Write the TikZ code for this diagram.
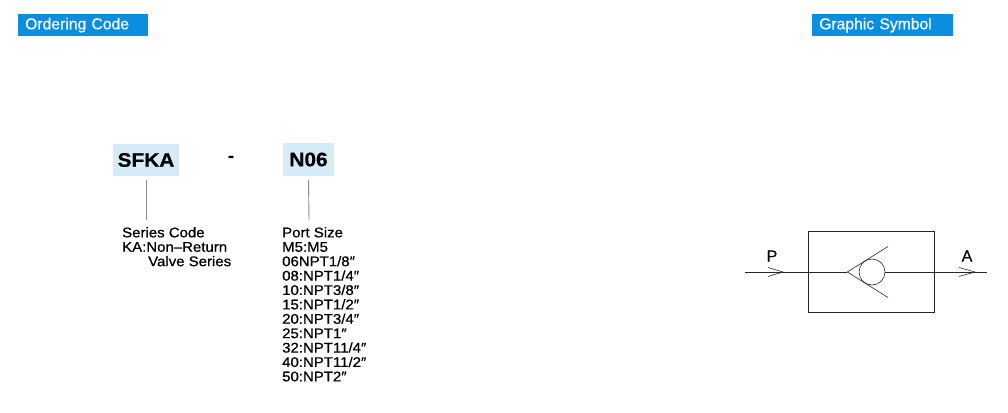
\documentclass[tikz,border=0pt]{standalone}
\usepackage{fontspec}
\setmainfont{Liberation Sans}
\newfontfamily\widefont[FakeStretch=1.07,FakeBold=0.7]{Liberation Sans}
\newfontfamily\hdrfont[FakeBold=0.4]{Liberation Sans}
\usepackage{tikz}
\usetikzlibrary{positioning}
\definecolor{hdrblue}{HTML}{0A8EE0}
\definecolor{codeblue}{HTML}{D5EBF8}
\tikzset{
  hdr/.style={fill=hdrblue, text=white, anchor=north west, inner sep=0pt, inner xsep=7pt, minimum height=22pt, align=left, font=\hdrfont\fontsize{15.7}{18}\selectfont},
  codebox/.style={fill=codeblue, inner sep=0pt, minimum height=32pt, font=\widefont\bfseries\fontsize{19.5}{22}\selectfont},
  lead/.style={draw=black!45, line width=0.9pt},
  desc/.style={anchor=north west, inner sep=0pt, align=left, font=\widefont\fontsize{14}{14.4}\selectfont},
  sym/.style={draw=black!85, line width=0.6pt},
  port/.style={font=\hdrfont\fontsize{16}{18}\selectfont, inner sep=0pt}
}

\begin{document}
\begin{tikzpicture}[x=1pt,y=-1pt]
            \useasboundingbox (0,0) rectangle (1008,412);
            \node[hdr, text width=116pt] (ordhdr) at (18,14) {Ordering Code};
            \node[hdr, text width=127pt] (symhdr) at (812,14) {Graphic Symbol};
            \node[codebox, minimum width=66pt] (sfka) at (146,160) {SFKA};
            \node[codebox, minimum width=51pt, minimum height=33pt] (nport) at (308.5,159.5) {N06};
            \node[font=\bfseries\fontsize{19.5}{22}\selectfont, inner sep=0pt] (dash) at (231,159) {-};
            \coordinate (sfkaend) at (146,220);
            \coordinate (nportend) at (309,220);
            \draw[lead] ([yshift=-4pt]sfka.south) -- (sfkaend);
            \draw[lead] ([yshift=-4pt]nport.south) -- (nportend);
            \node[desc] (series) at (122,227) {Series Code\\KA:Non\textendash Return\\\hspace*{26pt}Valve Series};
            \node[desc] (ports) at (282,227) {Port Size\\M5:M5\\06NPT1/8″\\08:NPT1/4″\\10:NPT3/8″\\15:NPT1/2″\\20:NPT3/4″\\25:NPT1″\\32:NPT11/4″\\40:NPT11/2″\\50:NPT2″};
            \draw[sym] (808,231) rectangle (934,312);
            \coordinate (pin) at (745,272);
            \coordinate (aout) at (987,272);
            \coordinate (apex) at (847.3,272);
            \coordinate (ball) at (872,272);
            \draw[sym] (pin) -- (apex);
            \draw[sym] (885,272) -- (aout);
            \draw[sym] (888,246.5) -- (apex) -- (888,297.5);
            \draw[sym] (ball) circle (13);
            \draw[sym] (768,267.5) -- (783,272) -- (768,276.5);
            \draw[sym] (959,267.5) -- (975,272) -- (959,276.5);
            \node[port] (plabel) at (772,256) {P};
            \node[port] (alabel) at (967,256) {A};
        \end{tikzpicture}
\end{document}
